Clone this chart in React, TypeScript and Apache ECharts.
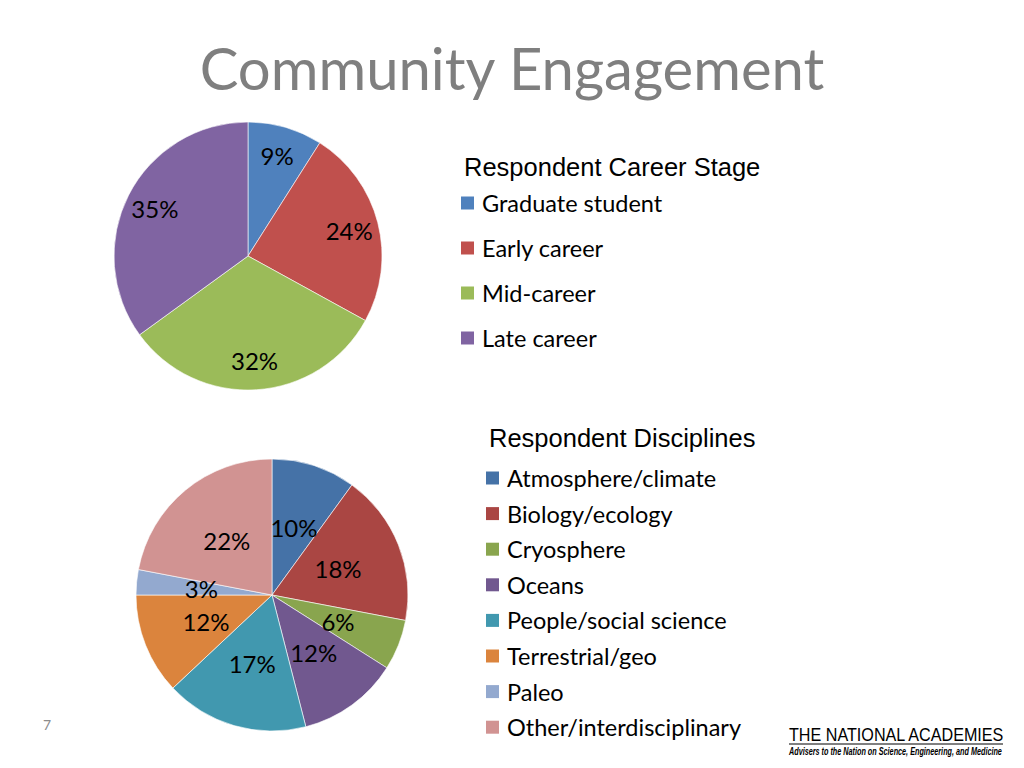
import React, { useEffect, useRef } from 'react';
import * as echarts from 'echarts';

const careerStages = ['Graduate student', 'Early career', 'Mid-career', 'Late career'];
const careerValues = [9, 24, 32, 35];
const careerColors = ['#4F81BD', '#C0504D', '#9BBB59', '#8064A2'];

const disciplines = [
  'Atmosphere/climate',
  'Biology/ecology',
  'Cryosphere',
  'Oceans',
  'People/social science',
  'Terrestrial/geo',
  'Paleo',
  'Other/interdisciplinary',
];
const disciplineValues = [10, 18, 6, 12, 17, 12, 3, 22];
const disciplineColors = ['#4572A7', '#AA4643', '#89A54E', '#71588F', '#4198AF', '#DB843D', '#93A9CF', '#D19392'];

const titleText = 'Community Engagement';
const careerLegendTitle = 'Respondent Career Stage';
const disciplineLegendTitle = 'Respondent Disciplines';
const pageNumber = '7';
const logoTitle = 'THE NATIONAL ACADEMIES';
const logoSubtitle = 'Advisers to the Nation on Science, Engineering, and Medicine';

const BODY_FONT = 'Lato, "Open Sans", sans-serif';

export default function App() {
  const ref = useRef<HTMLDivElement>(null);

  useEffect(() => {
    if (!ref.current) return;
    const chart = echarts.init(ref.current, undefined, { renderer: 'svg' });

    const careerData = careerStages.map((name, i) => ({
      name,
      value: careerValues[i],
      itemStyle: { color: careerColors[i] },
    }));
    const disciplineData = disciplines.map((name, i) => ({
      name,
      value: disciplineValues[i],
      itemStyle: { color: disciplineColors[i] },
    }));

    const labelStyle = {
      fontFamily: BODY_FONT,
      fontSize: 24,
      color: '#000',
    };

    const legendText = {
      fontFamily: BODY_FONT,
      fontSize: 23.5,
      color: '#000',
      lineHeight: 26,
      padding: [0, 0, 0, 3],
    };

    chart.setOption({
      animation: false,
      backgroundColor: '#ffffff',
      legend: [
        {
          orient: 'vertical',
          left: 461,
          top: 190,
          padding: 0,
          itemWidth: 13,
          itemHeight: 13,
          itemGap: 19,
          icon: 'rect',
          selectedMode: false,
          itemStyle: { borderWidth: 0 },
          data: careerStages.map((name, i) => ({ name, itemStyle: { color: careerColors[i], borderWidth: 0 } })),
          textStyle: legendText,
        },
        {
          orient: 'vertical',
          left: 486,
          top: 465,
          padding: 0,
          itemWidth: 13,
          itemHeight: 13,
          itemGap: 9.6,
          icon: 'rect',
          selectedMode: false,
          itemStyle: { borderWidth: 0 },
          data: disciplines.map((name, i) => ({ name, itemStyle: { color: disciplineColors[i], borderWidth: 0 } })),
          textStyle: legendText,
        },
      ],
      series: [
        {
          name: 'Career stage',
          type: 'pie',
          center: [248, 256],
          radius: 134,
          startAngle: 90,
          clockwise: true,
          avoidLabelOverlap: false,
          silent: true,
          label: { show: false },
          labelLine: { show: false },
          itemStyle: { borderColor: '#ffffff', borderWidth: 0.6 },
          data: careerData,
        },
        {
          name: 'Career stage labels',
          type: 'pie',
          center: [248, 256],
          radius: [69, 134],
          startAngle: 90,
          clockwise: true,
          avoidLabelOverlap: false,
          silent: true,
          z: 5,
          label: { show: true, position: 'inside', formatter: '{c}%', ...labelStyle },
          labelLine: { show: false },
          itemStyle: { color: 'rgba(0,0,0,0)', borderWidth: 0 },
          data: careerStages.map((name, i) => ({ name, value: careerValues[i] })),
        },
        {
          name: 'Disciplines',
          type: 'pie',
          center: [272, 595],
          radius: 136,
          startAngle: 90,
          clockwise: true,
          avoidLabelOverlap: false,
          silent: true,
          label: { show: true, position: 'inside', formatter: '{c}%', ...labelStyle },
          labelLine: { show: false },
          itemStyle: { borderColor: '#ffffff', borderWidth: 0.6 },
          data: disciplineData,
        },
      ],
      graphic: [
        {
          type: 'text',
          x: 512,
          y: 67,
          style: {
            text: titleText,
            font: 'normal 58px Lato, "Open Sans", sans-serif',
            fill: '#7F7F7F',
            textAlign: 'center',
            textVerticalAlign: 'middle',
          },
        },
        {
          type: 'text',
          x: 464,
          y: 167,
          style: {
            text: careerLegendTitle,
            font: 'normal 25.5px "Liberation Sans", Arial, sans-serif',
            fill: '#000',
            textAlign: 'left',
            textVerticalAlign: 'middle',
          },
        },
        {
          type: 'text',
          x: 489,
          y: 438,
          style: {
            text: disciplineLegendTitle,
            font: 'normal 25.5px "Liberation Sans", Arial, sans-serif',
            fill: '#000',
            textAlign: 'left',
            textVerticalAlign: 'middle',
          },
        },
        {
          type: 'text',
          x: 47,
          y: 724,
          style: {
            text: pageNumber,
            font: 'normal 14px Lato, sans-serif',
            fill: '#8C8C8C',
            textAlign: 'center',
            textVerticalAlign: 'middle',
          },
        },
        {
          type: 'text',
          x: 789,
          y: 735,
          scaleX: 0.85,
          style: {
            text: logoTitle,
            font: 'normal 19px "Liberation Sans", Arial, sans-serif',
            fill: '#000',
            textAlign: 'left',
            textVerticalAlign: 'middle',
          },
        },
        {
          type: 'line',
          shape: { x1: 789, y1: 744, x2: 1003, y2: 744 },
          style: { stroke: '#000', lineWidth: 1 },
        },
        {
          type: 'text',
          x: 789,
          y: 751,
          scaleX: 0.66,
          style: {
            text: logoSubtitle,
            font: 'italic bold 11px "Liberation Sans", Arial, sans-serif',
            fill: '#000',
            textAlign: 'left',
            textVerticalAlign: 'middle',
          },
        },
      ],
    });

    return () => {
      chart.dispose();
    };
  }, []);

  return (
    <div
      ref={ref}
      style={{ position: 'absolute', left: 0, top: 0, width: 1024, height: 768, background: '#fff' }}
    />
  );
}
